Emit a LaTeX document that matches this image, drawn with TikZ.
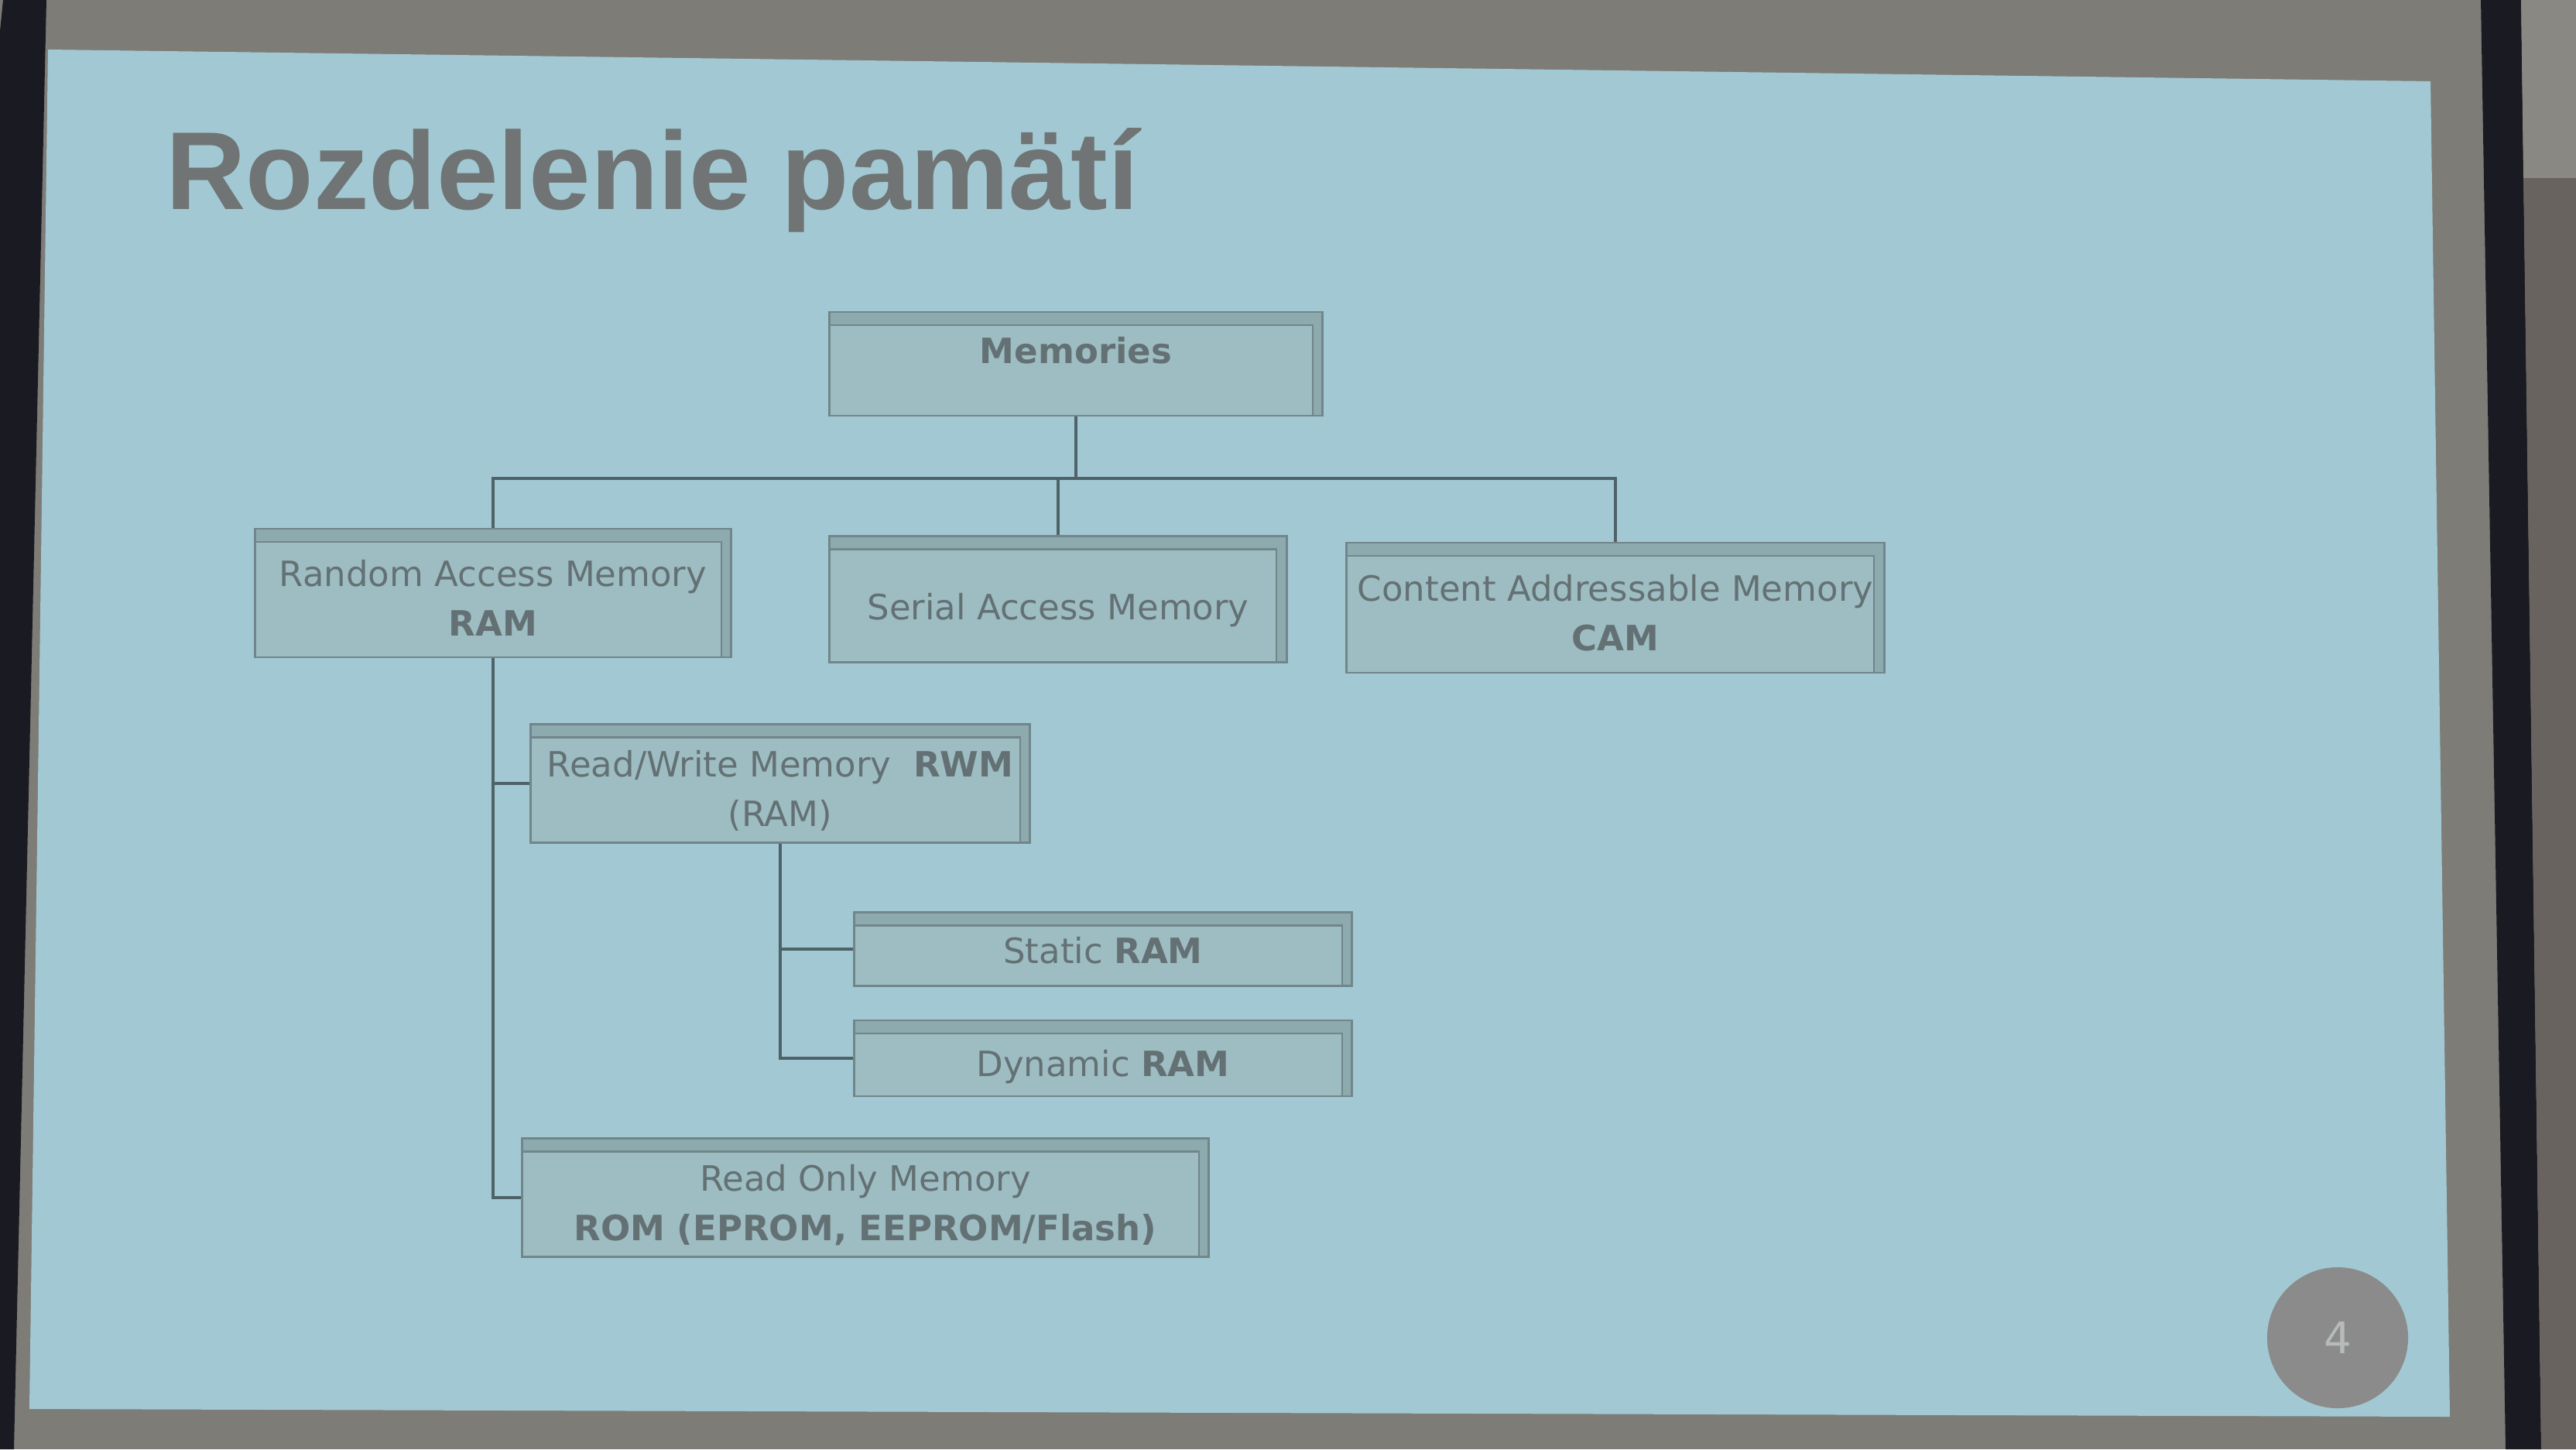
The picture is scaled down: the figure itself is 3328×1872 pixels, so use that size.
\documentclass[tikz,border=0pt]{standalone}
\usepackage{fontspec}
\setmainfont{DejaVu Sans}
\newfontfamily\titlefont{Liberation Sans}
\definecolor{surround}{RGB}{126,124,119}
\definecolor{slide}{RGB}{162,201,211}
\definecolor{frame}{RGB}{26,26,34}
\definecolor{wallhi}{RGB}{138,136,131}
\definecolor{walllo}{RGB}{104,99,94}
\definecolor{boxfill}{RGB}{157,189,194}
\definecolor{band}{RGB}{141,170,175}
\definecolor{boxline}{RGB}{112,134,138}
\definecolor{linecol}{RGB}{78,98,104}
\definecolor{txt}{RGB}{100,113,116}
\definecolor{titlecol}{RGB}{112,116,117}
\definecolor{pgfill}{RGB}{138,139,138}
\definecolor{pgtxt}{RGB}{182,186,186}
% text of a box, moved down (or up) without changing the box
\newcommand\boxtext[2][-0.11cm]{\raisebox{#1}[\height][\depth]{\begin{tabular}{@{}c@{}}#2\end{tabular}}}
\begin{document}
\begin{tikzpicture}[x=0.01cm, y=-0.01cm,
   every node/.style={font=\fontsize{12.8}{18.2}\selectfont, text=txt},
   box/.style={draw=boxline, line width=0.8pt, fill=boxfill, inner sep=0pt,
     path picture={
       \fill[band] (path picture bounding box.north west) rectangle ([yshift=-0.17cm]path picture bounding box.north east);
       \fill[band] ([xshift=-0.13cm]path picture bounding box.north east) rectangle (path picture bounding box.south east);
       \draw[boxline, line width=0.6pt] ([yshift=-0.17cm]path picture bounding box.north west)
         -- ([shift={(-0.13cm,-0.17cm)}]path picture bounding box.north east)
         -- ([xshift=-0.13cm]path picture bounding box.south east);}},
   conn/.style={draw=linecol, line width=1.1pt}]
\useasboundingbox (0,0) rectangle (3328,1872);
% screen and wall
\fill[surround] (0,0) rectangle (3328,1872);
\fill[slide] (62,64) -- (3140,105) -- (3165,1830) -- (38,1820) -- cycle;
\fill[frame] (4,0) -- (60,0) -- (18,1872) -- (0,1872) -- (0,40) -- cycle;
\fill[frame] (3205,0) -- (3257,0) -- (3283,1872) -- (3237,1872) -- cycle;
\fill[wallhi] (3257,0) -- (3328,0) -- (3328,230) -- (3260,230) -- cycle;
\fill[walllo] (3260,230) -- (3328,230) -- (3328,1872) -- (3283,1872) -- cycle;

\node[anchor=base west, font=\titlefont\bfseries\fontsize{40.7}{48}\selectfont, text=titlecol]
  (title) at (202,270) {Rozdelenie pamätí};

% tree
\node[box, minimum width=6.37cm, minimum height=1.34cm] (mem) at (1390,470) {\boxtext[0.13cm]{\textbf{Memories}}};
\node[box, minimum width=6.15cm, minimum height=1.66cm] (ram) at (637,766) {\boxtext{Random Access Memory\\\textbf{RAM}}};
\node[box, minimum width=5.90cm, minimum height=1.63cm] (sam) at (1367,774) {\boxtext[-0.14cm]{Serial Access Memory}};
\node[box, minimum width=6.94cm, minimum height=1.68cm] (cam) at (2087,785) {\boxtext{Content Addressable Memory\\\textbf{CAM}}};
\node[box, minimum width=6.45cm, minimum height=1.53cm] (rwm) at (1008,1012) {\boxtext{Read/Write Memory\ \ \textbf{RWM}\\(RAM)}};
\node[box, minimum width=6.43cm, minimum height=0.95cm] (sram) at (1425,1226) {\boxtext[-0.06cm]{Static \textbf{RAM}}};
\node[box, minimum width=6.43cm, minimum height=0.98cm] (dram) at (1425,1367) {\boxtext{Dynamic \textbf{RAM}}};
\node[box, minimum width=8.87cm, minimum height=1.53cm] (rom) at (1118,1547) {\boxtext{Read Only Memory\\\textbf{ROM (EPROM, EEPROM/Flash)}}};

\coordinate (bar) at (0,618);
\draw[conn] (mem.south) -- (mem.south |- bar);
\draw[conn] (ram.north) -- (ram.north |- bar) -- (cam.north |- bar) -- (cam.north);
\draw[conn] (sam.north |- bar) -- (sam.north);
\draw[conn] (ram.south) |- (rom.west);
\draw[conn] (ram.south |- rwm.west) -- (rwm.west);
\draw[conn] (rwm.south) |- (dram.west);
\draw[conn] (rwm.south |- sram.west) -- (sram.west);

\node[circle, fill=pgfill, minimum size=1.82cm, inner sep=0pt, text=pgtxt,
  font=\fontsize{16}{16}\selectfont] (pg) at (3020,1728) {4};
\end{tikzpicture}
\end{document}
